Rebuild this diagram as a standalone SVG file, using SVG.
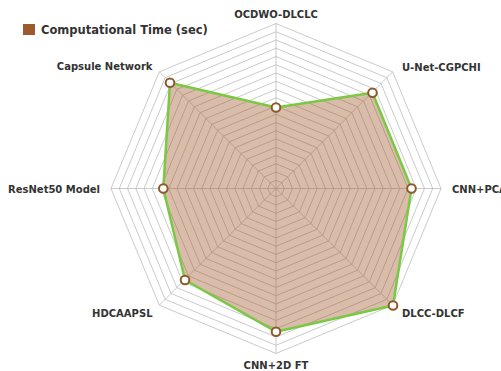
<svg xmlns="http://www.w3.org/2000/svg" width="501" height="371" viewBox="0 0 501 371">
<style>
.ring{fill:none;stroke:#bdbdbd;stroke-width:0.8}
.spoke{stroke:#bdbdbd;stroke-width:0.8}
.lbl{font-family:"DejaVu Sans",sans-serif;font-weight:bold;font-size:10px;fill:#333}
.leg{font-family:"DejaVu Sans",sans-serif;font-weight:bold;font-size:11.5px;fill:#333}
.pt{fill:#fff;stroke:#8b5a2b;stroke-width:2}
</style>
<rect width="501" height="371" fill="#fff"/>
<g id="legend">
<rect x="23" y="24" width="12" height="11" fill="#9c5a2e"/>
<text class="leg" x="41" y="34">Computational Time (sec)</text>
</g>
<g id="grid">
<polygon class="ring" points="276,180.25 281.83,182.67 284.25,188.5 281.83,194.33 276,196.75 270.17,194.33 267.75,188.5 270.17,182.67"/>
<polygon class="ring" points="276,172 287.67,176.83 292.5,188.5 287.67,200.17 276,205 264.33,200.17 259.5,188.5 264.33,176.83"/>
<polygon class="ring" points="276,163.75 293.5,171 300.75,188.5 293.5,206 276,213.25 258.5,206 251.25,188.5 258.5,171"/>
<polygon class="ring" points="276,155.5 299.33,165.17 309,188.5 299.33,211.83 276,221.5 252.67,211.83 243,188.5 252.67,165.17"/>
<polygon class="ring" points="276,147.25 305.17,159.33 317.25,188.5 305.17,217.67 276,229.75 246.83,217.67 234.75,188.5 246.83,159.33"/>
<polygon class="ring" points="276,139 311,153.5 325.5,188.5 311,223.5 276,238 241,223.5 226.5,188.5 241,153.5"/>
<polygon class="ring" points="276,130.75 316.84,147.66 333.75,188.5 316.84,229.34 276,246.25 235.16,229.34 218.25,188.5 235.16,147.66"/>
<polygon class="ring" points="276,122.5 322.67,141.83 342,188.5 322.67,235.17 276,254.5 229.33,235.17 210,188.5 229.33,141.83"/>
<polygon class="ring" points="276,114.25 328.5,136 350.25,188.5 328.5,241 276,262.75 223.5,241 201.75,188.5 223.5,136"/>
<polygon class="ring" points="276,106 334.34,130.16 358.5,188.5 334.34,246.84 276,271 217.66,246.84 193.5,188.5 217.66,130.16"/>
<polygon class="ring" points="276,97.75 340.17,124.33 366.75,188.5 340.17,252.67 276,279.25 211.83,252.67 185.25,188.5 211.83,124.33"/>
<polygon class="ring" points="276,89.5 346,118.5 375,188.5 346,258.5 276,287.5 206,258.5 177,188.5 206,118.5"/>
<polygon class="ring" points="276,81.25 351.84,112.66 383.25,188.5 351.84,264.34 276,295.75 200.16,264.34 168.75,188.5 200.16,112.66"/>
<polygon class="ring" points="276,73 357.67,106.83 391.5,188.5 357.67,270.17 276,304 194.33,270.17 160.5,188.5 194.33,106.83"/>
<polygon class="ring" points="276,64.75 363.5,101 399.75,188.5 363.5,276 276,312.25 188.5,276 152.25,188.5 188.5,101"/>
<polygon class="ring" points="276,56.5 369.34,95.16 408,188.5 369.34,281.84 276,320.5 182.66,281.84 144,188.5 182.66,95.16"/>
<polygon class="ring" points="276,48.25 375.17,89.33 416.25,188.5 375.17,287.67 276,328.75 176.83,287.67 135.75,188.5 176.83,89.33"/>
<polygon class="ring" points="276,40 381,83.5 424.5,188.5 381,293.5 276,337 171,293.5 127.5,188.5 171,83.5"/>
<polygon class="ring" points="276,31.75 386.84,77.66 432.75,188.5 386.84,299.34 276,345.25 165.16,299.34 119.25,188.5 165.16,77.66"/>
<polygon class="ring" points="276,23.5 392.67,71.83 441,188.5 392.67,305.17 276,353.5 159.33,305.17 111,188.5 159.33,71.83"/>
<line class="spoke" x1="276" y1="188.5" x2="276" y2="23.5"/>
<line class="spoke" x1="276" y1="188.5" x2="392.67" y2="71.83"/>
<line class="spoke" x1="276" y1="188.5" x2="441" y2="188.5"/>
<line class="spoke" x1="276" y1="188.5" x2="392.67" y2="305.17"/>
<line class="spoke" x1="276" y1="188.5" x2="276" y2="353.5"/>
<line class="spoke" x1="276" y1="188.5" x2="159.33" y2="305.17"/>
<line class="spoke" x1="276" y1="188.5" x2="111" y2="188.5"/>
<line class="spoke" x1="276" y1="188.5" x2="159.33" y2="71.83"/>
</g>
<g id="series">
<polygon points="276,107.5 372.5,92.7 411.5,188.5 393,305.5 276,331.7 185,280 163.3,188.5 170,82.7" fill="#a0582b" fill-opacity="0.4" stroke="#7ac943" stroke-width="2.5" stroke-linejoin="round"/>
<circle class="pt" cx="276" cy="107.5" r="4.3"/>
<circle class="pt" cx="372.5" cy="92.7" r="4.3"/>
<circle class="pt" cx="411.5" cy="188.5" r="4.3"/>
<circle class="pt" cx="393" cy="305.5" r="4.3"/>
<circle class="pt" cx="276" cy="331.7" r="4.3"/>
<circle class="pt" cx="185" cy="280" r="4.3"/>
<circle class="pt" cx="163.3" cy="188.5" r="4.3"/>
<circle class="pt" cx="170" cy="82.7" r="4.3"/>
</g>
<g id="labels">
<text class="lbl" x="276" y="18" text-anchor="middle">OCDWO-DLCLC</text>
<text class="lbl" x="402" y="70.5">U-Net-CGPCHI</text>
<text class="lbl" x="452" y="192.5">CNN+PCA</text>
<text class="lbl" x="402" y="316.5">DLCC-DLCF</text>
<text class="lbl" x="276" y="368.5" text-anchor="middle">CNN+2D FT</text>
<text class="lbl" x="152.5" y="316.5" text-anchor="end">HDCAAPSL</text>
<text class="lbl" x="100" y="192.5" text-anchor="end">ResNet50 Model</text>
<text class="lbl" x="152.5" y="69.5" text-anchor="end">Capsule Network</text>
</g>
</svg>
